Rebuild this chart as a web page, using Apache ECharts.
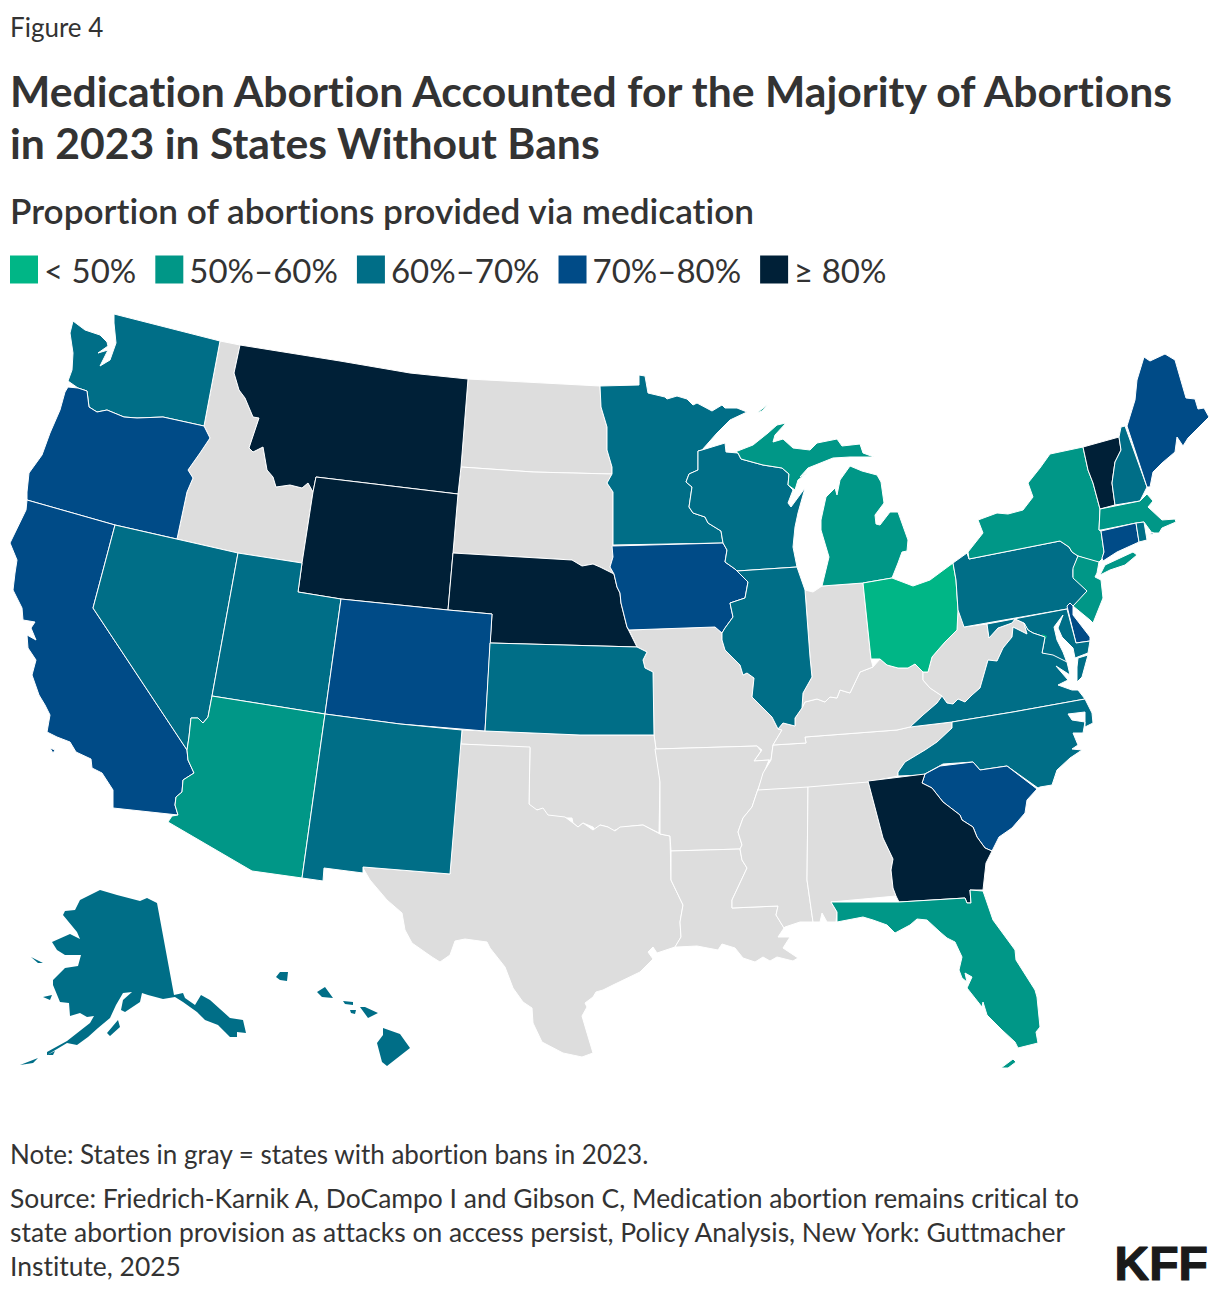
<!DOCTYPE html>
<html><head><meta charset="utf-8">
<style>html,body{margin:0;padding:0;background:#fff}#c{width:1220px;height:1294px}svg text{font-variant-ligatures:none;font-feature-settings:"liga" 0}</style>
<script src="https://cdn.jsdelivr.net/npm/echarts@6/dist/echarts.min.js"></script>
</head><body><div id="c"></div>
<script>
const figureLabel = 'Figure 4';
const titleLines = ['Medication Abortion Accounted for the Majority of Abortions', 'in 2023 in States Without Bans'];
const subtitle = 'Proportion of abortions provided via medication';
const note = 'Note: States in gray = states with abortion bans in 2023.';
const sourceLines = ['Source: Friedrich-Karnik A, DoCampo I and Gibson C, Medication abortion remains critical to', 'state abortion provision as attacks on access persist, Policy Analysis, New York: Guttmacher', 'Institute, 2025'];
const legendLabels = ['< 50%', '50%–60%', '60%–70%', '70%–80%', '≥ 80%'];
const legendColors = ['#00B686', '#009787', '#006E87', '#004B87', '#002037'];
const bandBelow50 = ['OH', 'DC'];
const band50to60 = ['NY', 'MA', 'NJ', 'MI', 'AZ', 'FL'];
const band60to70 = ['WA', 'NV', 'UT', 'NM', 'KS', 'MN', 'WI', 'IL', 'PA', 'MD', 'VA', 'NC', 'NH', 'RI', 'AK', 'HI'];
const band70to80 = ['OR', 'CA', 'CO', 'IA', 'ME', 'CT', 'DE', 'SC'];
const band80plus = ['MT', 'WY', 'NE', 'GA', 'VT'];
const banStates = ['ID', 'ND', 'SD', 'TX', 'OK', 'MO', 'AR', 'LA', 'MS', 'AL', 'TN', 'KY', 'IN', 'WV'];
const bandMidpoints = [45, 55, 65, 75, 85];
const noCoastStroke = ['AK', 'HI', 'DC'];

// Base map outlines (the map's geography, traced state by state)
const outlines = {
ID:['220,341 240,345 234,373 239,390 245,398 253,417 259,418 253,436 249,448 253,452 263,447 267,470 273,477 276,487 290,485 302,488 308,483 313,492 302,563 238,553 177,539 187,492 193,478 188,470 200,453 210,438 204,426'],
ND:['468,379 600,386 601,407 607,427 607,450 612,467 612,474 533,472 461,467'],
SD:['461,467 533,472 612,474 607,483 613,492 613,545 613,557 610,567 614,574 600,567 593,564 582,566 572,560 453,553 458,494'],
MO:['629,630 715,627 722,633 722,640 725,650 740,665 743,675 747,673 754,678 752,697 760,705 772,717 778,729 782,730 773,745 771,760 754,761 762,750 757,746 656,749 654,735 653,672 645,668 643,660 647,652 637,647'],
OK:['461,744 530,748 529,804 535,810 542,809 548,816 563,818 572,818 573,823 578,827 583,823 593,827 595,830 600,825 608,827 613,831 620,828 632,826 643,825 659,833 660,780 656,749 654,735 580,735 485,731 462,730'],
TX:['460,744 530,747 529,804 537,810 543,808 548,815 565,817 573,823 578,827 583,823 593,830 600,825 608,827 615,831 620,827 643,825 660,834 670,836 671,880 683,905 680,922 681,937 675,947 657,953 653,947 648,952 653,959 640,972 613,985 603,990 596,992 593,997 585,1003 587,1007 582,1016 587,1033 593,1053 582,1057 563,1053 542,1042 533,1023 532,1008 523,1002 513,988 505,967 490,948 487,942 465,939 455,941 450,955 440,962 432,957 412,943 405,930 402,913 387,900 370,880 363,868 363,867 450,874'],
AR:['655,749 757,746 761,751 754,761 769,760 765,770 757,792 752,807 743,818 738,832 742,845 740,849 671,851 670,836 660,834 660,782'],
LA:['671,851 740,849 742,860 747,868 732,900 732,908 778,906 776,915 784,928 778,937 783,937 790,937 783,948 798,958 793,961 777,957 770,961 763,957 755,962 743,958 735,948 722,944 718,950 697,946 677,947 675,947 681,937 680,922 683,905 671,880'],
MS:['758,789 808,786 807,880 813,922 800,922 785,927 784,928 776,915 778,906 732,908 732,900 747,868 742,860 740,849 742,845 738,832 743,818 752,807 757,792'],
AL:['808,786 868,781 883,838 893,859 891,870 893,888 896,896 831,902 837,912 836,922 827,922 822,913 820,922 813,922 807,880'],
TN:['773,745 806,743 805,737 897,730 910,727 952,722 952,728 937,742 925,750 905,762 898,772 898,776 868,782 808,787 758,790 763,773 771,760'],
KY:['873,667 880,659 887,665 898,668 908,668 915,664 923,672 923,680 930,688 942,696 937,703 923,715 910,727 897,730 805,737 806,743 773,745 782,730 778,729 783,723 795,726 795,718 802,708 805,702 817,699 825,702 830,697 837,698 840,690 850,693 860,672'],
IN:['805,590 813,592 822,586 863,583 871,659 873,667 860,672 850,693 840,690 837,698 830,697 825,702 817,699 805,702 802,708 803,693 812,677 810,657'],
WV:['956,580 958,610 957,630 945,642 938,650 932,657 928,672 923,672 923,680 930,688 942,696 947,703 953,704 958,699 965,702 972,695 980,688 988,660 997,661 1003,648 1012,637 1013,627 1027,634 1024,623 1015,619 1012,623 998,628 989,638 987,624 964,627'],
WA:['114,314 220,341 204,426 163,417 137,418 124,417 107,410 97,412 89,407 87,391 78,388 68,381 72,370 73,353 70,333 73,321 85,330 100,335 107,342 108,346 98,353 108,350 100,366 110,360 116,343 114,323'],
OR:['68,387 78,388 87,391 89,407 97,412 107,410 124,417 137,418 163,417 204,426 210,438 200,453 188,470 193,478 187,492 177,539 115,525 27,500 27,492 29,473 42,455 50,433 60,410 65,392'],
MT:['240,345 340,361 410,373 468,379 461,467 458,494 316,477 313,492 308,483 302,488 290,485 276,487 273,477 267,470 263,447 253,452 249,448 253,436 259,418 253,417 245,398 239,390 234,373'],
WY:['316,477 458,494 453,553 448,610 341,599 298,592 302,563 313,492'],
NE:['453,553 572,560 582,566 593,564 600,567 614,574 617,587 620,593 621,603 627,627 637,647 490,643 492,614 448,610'],
MN:['600,386 639,385 639,375 645,376 648,393 665,397 667,399 677,396 687,399 693,405 697,403 712,411 722,405 725,408 737,408 747,412 730,420 717,433 702,450 698,451 698,470 689,474 686,482 692,487 689,507 693,513 705,517 708,523 721,531 723,543 613,545 613,492 607,483 612,474 612,467 607,450 607,427 601,407'],
IA:['612,546 723,543 727,550 725,562 735,569 748,582 745,598 730,603 733,617 725,628 722,633 715,627 629,630 627,627 621,603 620,593 617,587 614,574 610,567 613,557'],
WI:['698,451 702,450 725,443 726,452 738,453 741,459 763,465 782,468 789,474 788,485 793,490 788,503 791,507 805,488 798,513 795,527 793,547 797,567 737,571 735,569 725,562 727,550 723,543 721,531 708,523 705,517 693,513 689,507 692,487 686,482 689,474 698,470'],
MI:['735,452 753,445 768,433 777,425 786,423 775,435 773,442 783,439 793,448 810,450 817,443 837,439 842,446 860,444 863,453 874,457 850,457 833,458 818,464 808,468 800,477 808,472 798,480 795,490 788,485 789,474 782,468 763,465 741,459 738,453',
 '850,466 862,471 877,475 881,482 884,503 875,515 876,524 880,525 890,512 898,512 908,540 907,551 902,552 898,563 892,578 863,583 822,586 829,557 821,530 821,520 826,497 835,488 837,495 840,480 845,473',
 '768,404 757,413 762,411'],
IL:['737,571 797,567 805,590 810,657 812,677 803,693 802,708 795,718 795,726 783,723 778,729 772,717 760,705 752,697 754,678 747,673 743,675 740,665 725,650 722,640 722,633 725,628 733,617 730,603 745,598 748,582'],
OH:['863,583 892,578 913,586 930,580 953,563 956,580 958,610 957,630 945,642 938,650 932,657 928,672 923,672 915,664 908,668 898,668 887,665 880,659 872,659 871,659'],
PA:['953,563 967,553 969,559 1060,541 1069,547 1072,552 1078,556 1073,570 1073,577 1087,591 1075,605 1067,609 964,627 958,610 956,580'],
NY:['1083,447 1050,454 1040,468 1028,483 1033,497 1023,510 1008,514 997,513 978,520 983,533 968,552 969,559 1060,541 1069,547 1072,552 1078,556 1098,563 1102,559 1104,552 1101,531 1099,530 1100,509 1093,483 1088,470',
 '1100,575 1105,565 1133,552 1137,555 1125,565 1110,570'],
VT:['1083,447 1119,437 1121,450 1115,462 1112,483 1115,505 1100,509 1093,483 1088,470'],
NH:['1119,437 1121,427 1125,426 1147,487 1140,501 1115,505 1112,483 1115,462 1121,450'],
ME:['1127,426 1135,400 1137,380 1144,357 1150,361 1165,354 1175,360 1186,398 1195,399 1198,409 1204,408 1209,417 1198,428 1188,438 1183,446 1177,437 1175,452 1162,463 1153,472 1150,487 1147,487'],
MA:['1100,509 1140,501 1147,494 1153,501 1148,507 1162,520 1175,519 1176,522 1162,528 1159,533 1152,533 1144,522 1136,523 1101,530 1099,530'],
CT:['1101,531 1136,523 1139,542 1117,552 1103,561 1102,558 1104,552'],
RI:['1136,523 1144,522 1147,540 1139,542','1149,535 1153,532 1153,534'],
NJ:['1078,556 1099,562 1097,573 1095,577 1101,580 1103,598 1093,623 1090,620 1073,606 1087,591 1073,578 1073,568'],
DE:['1067,606 1070,603 1073,606 1073,615 1090,637 1090,641 1076,643'],
MD:['987,624 1067,609 1076,643 1090,641 1088,653 1075,658 1073,648 1062,637 1058,628 1063,615 1054,627 1057,640 1063,652 1066,660 1068,672 1056,664 1048,655 1042,653 1045,637 1033,633 1028,630 1024,623 1015,619 1012,623 998,628 989,638'],
DC:['1042,634 1047,636 1045,640'],
VA:['910,727 923,715 937,703 942,696 947,703 953,704 958,699 965,702 972,695 980,688 988,660 997,661 1003,648 1012,637 1013,627 1027,634 1024,623 1028,630 1033,633 1045,637 1042,653 1053,655 1067,662 1070,675 1056,666 1068,680 1058,685 1072,690 1078,690 1085,699 1013,712 952,722',
 '1078,658 1088,655 1082,677 1077,682 1077,667'],
NC:['898,776 898,772 905,762 925,750 937,742 952,728 952,722 1013,712 1085,699 1092,713 1093,723 1085,727 1085,712 1068,714 1072,720 1085,722 1083,733 1073,733 1078,745 1072,749 1082,750 1070,758 1057,770 1052,785 1040,787 1038,788 1007,766 980,770 973,762 943,764 923,775'],
SC:['922,783 925,774 940,766 973,762 980,770 1007,766 1037,789 1027,800 1025,813 1012,828 999,837 992,851 985,848 977,837 973,827 962,820 960,815 943,802 932,788'],
GA:['868,781 925,774 922,783 932,788 943,802 960,815 962,820 973,827 977,837 985,848 992,851 986,863 983,890 970,890 971,903 967,903 965,898 899,902 896,896 893,888 891,870 893,859 883,838'],
FL:['831,902 899,902 965,898 967,903 971,903 970,890 983,891 993,920 1015,950 1016,960 1035,990 1037,997 1040,1027 1036,1032 1038,1043 1018,1048 1015,1042 1002,1030 995,1023 987,1015 983,1002 982,1007 967,988 972,977 965,973 967,982 962,978 959,970 962,957 955,942 947,938 940,932 927,920 917,919 910,925 895,933 887,925 873,920 863,917 837,922 837,912',
 '1001,1068 1013,1059 1016,1062 1008,1068'],
CA:['27,500 115,525 93,608 187,750 188,760 194,773 183,780 182,792 176,797 175,805 178,815 113,808 113,790 102,773 92,768 91,759 76,752 70,742 57,737 47,732 50,715 45,705 39,695 32,675 36,660 28,648 27,635 36,640 31,628 35,622 23,620 22,608 13,590 15,573 17,560 10,543 26,510',
 '50,748 55,750 53,753'],
NV:['115,525 238,553 212,696 208,717 203,723 198,718 191,718 189,737 187,750 93,608'],
UT:['238,553 302,563 298,592 341,599 325,714 212,696'],
CO:['341,599 448,610 492,614 485,731 400,724 325,714'],
KS:['490,643 637,647 647,652 643,660 645,668 653,672 654,735 580,735 485,731'],
AZ:['212,696 325,714 302,878 252,871 168,822 172,816 178,815 175,805 176,797 182,792 183,780 194,773 188,760 187,750 189,737 191,718 198,718 203,723 208,717'],
NM:['325,714 400,724 462,730 450,874 363,867 363,873 324,868 323,881 302,878'],
AK:['157,903 174,995 183,993 185,998 195,1005 201,995 210,1000 230,1018 243,1020 246,1033 237,1032 237,1037 230,1037 218,1025 205,1020 197,1012 183,1002 175,997 163,999 148,995 142,993 140,1002 125,1012 121,1010 123,1000 132,992 123,993 116,1005 110,1018 98,1028 88,1037 77,1045 67,1043 47,1055 47,1052 67,1041 90,1023 94,1016 87,1017 80,1013 70,1016 69,1003 60,1002 53,985 53,980 65,968 78,966 81,955 65,955 57,950 52,942 70,934 80,939 77,932 63,915 65,911 75,910 80,900 100,890 117,895 140,901 147,898',
 '107,1033 118,1020 120,1027 110,1036','31,957 43,963 38,963','43,997 52,995 50,1000','47,1055 55,1051 53,1055','20,1065 38,1058 33,1063'],
HI:['276,977 280,972 288,972 287,981 280,980','317,992 325,987 333,998 322,997','343,1001 353,1002 353,1005 345,1004','350,1010 356,1010 355,1014 351,1013','360,1007 365,1007 378,1013 368,1018','383,1028 400,1034 410,1048 387,1066 382,1062 377,1043 383,1035']
};

const bands = [bandBelow50, band50to60, band60to70, band70to80, band80plus];
const toRing = s => { const r = s.split(' ').map(p => p.split(',').map(Number)); r.push(r[0].slice()); return r; };
const geojson = { type: 'FeatureCollection', features: Object.keys(outlines).map(n => ({
  type: 'Feature', properties: { name: n },
  geometry: { type: 'MultiPolygon', coordinates: outlines[n].map(s => [toRing(s)]) }
})) };
echarts.registerMap('states', geojson);

const mapData = [];
bands.forEach((list, i) => list.forEach(name => mapData.push(
  noCoastStroke.includes(name)
    ? { name, value: bandMidpoints[i], itemStyle: { borderWidth: 0 } }
    : { name, value: bandMidpoints[i] })));

const FONT = 'Lato';
const INK = '#333333';
const chart = echarts.init(document.getElementById('c'), null, { renderer: 'svg' });
chart.setOption({
  animation: false,
  backgroundColor: '#ffffff',
  title: [
    { left: 10, top: 14, padding: 0, text: figureLabel, textStyle: { fontFamily: FONT, fontSize: 26, fontWeight: 400, color: INK } },
    { left: 10, top: 64, padding: 0, text: titleLines.join('\n'), textStyle: { fontFamily: FONT, fontSize: 42.7, fontWeight: 700, color: INK, lineHeight: 52 } },
    { left: 10, top: 192, padding: 0, text: subtitle, textStyle: { fontFamily: FONT, fontSize: 35.2, fontWeight: 600, color: INK } },
    { left: 10, top: 1141, padding: 0, text: note, textStyle: { fontFamily: FONT, fontSize: 26, fontWeight: 400, color: INK } },
    { left: 10, top: 1181, padding: 0, text: sourceLines.join('\n'), textStyle: { fontFamily: FONT, fontSize: 26.45, fontWeight: 400, color: INK, lineHeight: 34 } },
    { right: 11, top: 1239, padding: 0, text: 'KFF', textStyle: { fontFamily: 'Liberation Sans', fontSize: 48, fontWeight: 700, color: '#1a1a1a', textBorderColor: '#1a1a1a', textBorderWidth: 1.2 } }
  ],
  visualMap: {
    type: 'piecewise', orient: 'horizontal', left: 10, top: 253, padding: 0,
    itemWidth: 28, itemHeight: 28, itemGap: 19, textGap: 6, itemSymbol: 'rect',
    hoverLink: false, selectedMode: false, seriesIndex: 0,
    textStyle: { fontFamily: FONT, fontSize: 33, color: INK },
    outOfRange: { color: '#DDDDDD' },
    pieces: [
      { lt: 50, label: legendLabels[0], color: legendColors[0] },
      { gte: 50, lt: 60, label: legendLabels[1], color: legendColors[1] },
      { gte: 60, lt: 70, label: legendLabels[2], color: legendColors[2] },
      { gte: 70, lt: 80, label: legendLabels[3], color: legendColors[3] },
      { gte: 80, label: legendLabels[4], color: legendColors[4] }
    ]
  },
  series: [{
    type: 'map', map: 'states', silent: true, roam: false,
    projection: { project: p => p, unproject: p => p },
    boundingCoords: [[0, 0], [1220, 1294]],
    left: 0, top: 0, width: 1220, height: 1294,
    label: { show: false },
    itemStyle: { areaColor: '#DDDDDD', borderColor: '#ffffff', borderWidth: 1 },
    data: mapData.concat(banStates.map(name => ({ name, value: NaN })))
  }]
});
</script></body></html>
